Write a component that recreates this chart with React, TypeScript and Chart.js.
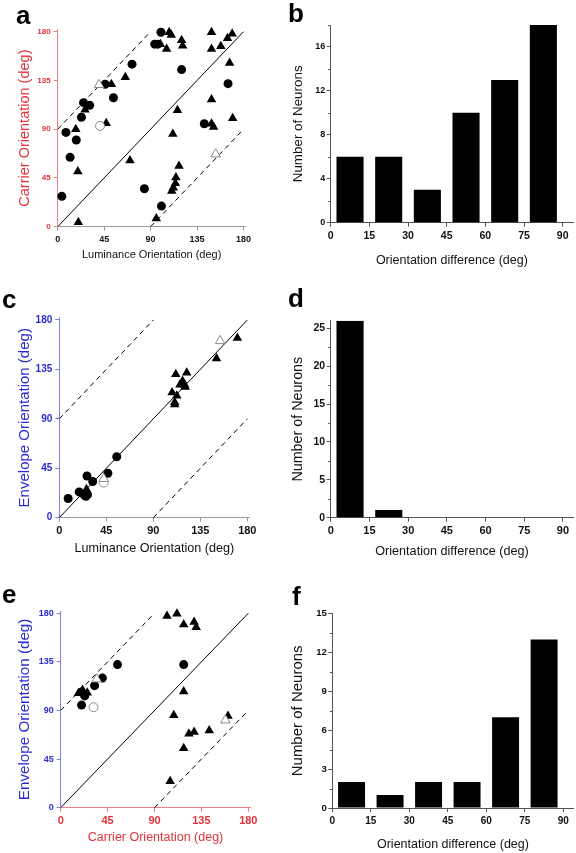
import React, { useEffect, useRef } from "react";
import { Chart, registerables } from "chart.js";

Chart.register(...registerables);

// ---------------- DATA ----------------
// Panel a: Luminance (x) vs Carrier (y) orientation
const aCircleX = [4, 8, 12, 18, 23, 25, 31, 46, 54, 72, 84, 94, 97, 100, 100.5, 120, 142, 165];
const aCircleY = [28, 87, 64, 80, 101, 114.5, 112, 131.5, 119, 150, 35, 168.5, 168.5, 179.5, 19, 145, 95, 132];
const aOpenCircleX = [41];
const aOpenCircleY = [93];
const aTriX = [20, 19.5, 17.5, 26.5, 47, 52, 65.5, 70, 95.5, 99.5, 105.5, 108, 110, 120, 121, 116, 111.5, 117.5, 114.5, 114, 112, 110.5, 149, 149, 158, 164.5, 169, 166.5, 149, 149, 151, 169.5];
const aTriY = [4, 51, 90, 108, 95.5, 131.5, 138, 61, 7.5, 168.5, 164, 179.5, 177, 172, 167, 107.5, 85.5, 56, 45.5, 40, 36, 33, 179.5, 164, 166.5, 174, 178, 151, 117.5, 95, 92, 100];
const aOpenTriX = [40, 153];
const aOpenTriY = [131, 67];

// Panel c: Luminance (x) vs Envelope (y) orientation
const cCircleX = [8.5, 19, 24, 25.5, 27, 26.5, 32, 46.5, 55];
const cCircleY = [17.5, 23.5, 20.5, 19.5, 21, 38, 33, 40.5, 55.5];
const cOpenCircleX = [42.5];
const cOpenCircleY = [32];
const cTriX = [26, 111.5, 122, 108, 112.5, 110.5, 110.5, 115.5, 118, 120, 120.5, 150.5, 170.5];
const cTriY = [26, 130.5, 132, 114, 111, 105, 103, 121, 124.5, 121, 119, 145, 163.5];
const cOpenTriX = [42.5, 154];
const cOpenTriY = [35.5, 161];

// Panel e: Carrier (x) vs Envelope (y) orientation
const eCircleX = [118, 54.5, 40, 32.5, 20, 23, 20];
const eCircleY = [132.5, 132.5, 120, 113, 95, 103.5, 107];
const eOpenCircleX = [31.5];
const eOpenCircleY = [93];
const eTriX = [102, 111.5, 118, 128, 130, 118, 108.5, 123, 128, 142.5, 118, 105, 160.5, 17, 21, 25.5];
const eTriY = [177.5, 179.5, 169.5, 172, 167, 107.5, 85.5, 68.5, 70, 71.5, 55, 24.5, 85, 106, 109, 106.5];
const eOpenTriX = [34.5, 158];
const eOpenTriY = [119, 81];

// Reference lines (y = x, y = x + 90, y = x - 90)
const identityX = [0, 180];
const identityY = [0, 180];
const upperX = [0, 90];
const upperY = [90, 180];
const lowerX = [90, 180];
const lowerY = [0, 90];

const scatterTicks = [0, 45, 90, 135, 180];

// Histograms: orientation difference bins
const binCenters = [7.5, 22.5, 37.5, 52.5, 67.5, 82.5];
const histTicks = [0, 15, 30, 45, 60, 75, 90];
const bCounts = [6, 6, 3, 10, 13, 18];
const dCounts = [26, 1, 0, 0, 0, 0];
const fCounts = [2, 1, 2, 2, 7, 13];
const bYTicks = [0, 4, 8, 12, 16];
const dYTicks = [0, 5, 10, 15, 20, 25];
const fYTicks = [0, 3, 6, 9, 12, 15];

// ---------------- STYLE ----------------
const FONT = "'Liberation Sans', Arial, Helvetica, sans-serif";
const RED = "#e2333c";
const RED_LINE = "#ec7f85";
const BLUE = "#2b2bd4";
const BLUE_LINE = "#8080e2";
const GRAY_LINE = "#9a9a9a";
const DARK_LINE = "#555555";
const TEXT = "#111111";

Chart.defaults.font.family = FONT;

const pts = (xs: number[], ys: number[]) => xs.map((x, i) => ({ x, y: ys[i] }));

const minorTicks = {
  id: "minorTicks",
  afterDraw(chart: any, _args: any, opts: any) {
    if (!opts || !opts.step) return;
    const s = chart.scales.y;
    const ctx = chart.ctx;
    ctx.save();
    ctx.strokeStyle = opts.color || DARK_LINE;
    ctx.lineWidth = 1;
    for (let v = opts.step; v <= s.max; v += 2 * opts.step) {
      const py = Math.round(s.getPixelForValue(v)) + 0.5;
      ctx.beginPath();
      ctx.moveTo(s.right, py);
      ctx.lineTo(s.right - 2.5, py);
      ctx.stroke();
    }
    ctx.restore();
  },
};

type Geo = {
  w: number; h: number;
  axisLeft: number; axisRight: number; axisTop: number; axisBottom: number;
  yTitleX: number; xTitleY: number; yTitleSize: number; xTitleSize: number;
};

function layoutFor(g: Geo) {
  const padLeft = g.yTitleX - 0.6 * g.yTitleSize;
  const xBottom = g.xTitleY + 0.6 * g.xTitleSize;
  return {
    padding: { left: padLeft, top: g.axisTop, right: g.w - g.axisRight, bottom: g.h - xBottom },
    yWidth: g.axisLeft - padLeft,
    xHeight: xBottom - g.axisBottom,
  };
}

type AxisStyle = { line: string; text: string; tickSize: number; title: string; titleSize: number };

function axis(opts: {
  s: AxisStyle; min: number; max: number; ticks: number[]; vertical: boolean; size: number; tickLen: number; pad: number;
}) {
  const { s } = opts;
  return {
    type: "linear",
    min: opts.min,
    max: opts.max,
    offset: false,
    afterBuildTicks: (scale: any) => {
      scale.ticks = opts.ticks.map((v) => ({ value: v }));
    },
    afterFit: (scale: any) => {
      if (opts.vertical) scale.width = opts.size;
      else scale.height = opts.size;
    },
    border: { display: true, color: s.line, width: 1 },
    grid: { display: true, drawOnChartArea: false, drawTicks: true, tickLength: opts.tickLen, color: s.line, offset: false },
    ticks: {
      color: s.text,
      padding: opts.pad,
      maxRotation: 0,
      autoSkip: false,
      font: { size: s.tickSize, weight: "bold", family: FONT },
    },
    title: {
      display: true,
      text: s.title,
      color: s.text,
      padding: 0,
      font: { size: s.titleSize, family: FONT },
    },
  };
}

type ScatterSpec = {
  geo: Geo;
  xs: AxisStyle; ys: AxisStyle;
  circle: [number[], number[]]; openCircle: [number[], number[]];
  tri: [number[], number[]]; openTri: [number[], number[]];
};

function scatterConfig(sp: ScatterSpec): any {
  const L = layoutFor(sp.geo);
  const mk = (d: any, style: string, r: number, open: boolean) => ({
    data: d,
    pointStyle: style,
    pointRadius: r,
    pointBackgroundColor: open ? "#ffffff" : "#000000",
    pointBorderColor: open ? "#8a8a8a" : "#000000",
    pointBorderWidth: open ? 1 : 0,
    showLine: false,
    clip: false,
  });
  const line = (d: any, dash: number[]) => ({
    data: d,
    showLine: true,
    borderColor: "#000000",
    borderWidth: 1,
    borderDash: dash,
    pointRadius: 0,
    fill: false,
  });
  return {
    type: "scatter",
    data: {
      datasets: [
        mk(pts(sp.openTri[0], sp.openTri[1]), "triangle", 5.5, true),
        mk(pts(sp.openCircle[0], sp.openCircle[1]), "circle", 4.5, true),
        mk(pts(sp.tri[0], sp.tri[1]), "triangle", 5.5, false),
        mk(pts(sp.circle[0], sp.circle[1]), "circle", 4.5, false),
        line(pts(identityX, identityY), []),
        line(pts(upperX, upperY), [5, 4]),
        line(pts(lowerX, lowerY), [5, 4]),
      ],
    },
    options: {
      responsive: false,
      animation: false,
      events: [],
      layout: { padding: L.padding },
      plugins: { legend: { display: false }, tooltip: { enabled: false } },
      scales: {
        x: axis({ s: sp.xs, min: 0, max: 182, ticks: scatterTicks, vertical: false, size: L.xHeight, tickLen: 4, pad: 3 }),
        y: axis({ s: sp.ys, min: 0, max: 182, ticks: scatterTicks, vertical: true, size: L.yWidth, tickLen: 4, pad: 3 }),
      },
    },
  };
}

type HistSpec = {
  geo: Geo; counts: number[]; yMax: number; yTicks: number[]; minorStep: number;
  xTickSize: number; yTickSize: number; xTitleSize: number; yTitleSize: number;
};

function histConfig(sp: HistSpec): any {
  const L = layoutFor(sp.geo);
  const xs: AxisStyle = { line: DARK_LINE, text: TEXT, tickSize: sp.xTickSize, title: "Orientation difference (deg)", titleSize: sp.xTitleSize };
  const ys: AxisStyle = { line: DARK_LINE, text: TEXT, tickSize: sp.yTickSize, title: "Number of Neurons", titleSize: sp.yTitleSize };
  return {
    type: "bar",
    data: {
      datasets: [
        {
          data: pts(binCenters, sp.counts),
          backgroundColor: "#000000",
          borderWidth: 0,
          barPercentage: 0.7,
          categoryPercentage: 1,
        },
      ],
    },
    options: {
      responsive: false,
      animation: false,
      events: [],
      layout: { padding: L.padding },
      plugins: { legend: { display: false }, tooltip: { enabled: false }, minorTicks: { step: sp.minorStep, color: DARK_LINE } },
      scales: {
        x: axis({ s: xs, min: 0, max: 94, ticks: histTicks, vertical: false, size: L.xHeight, tickLen: 4, pad: 3 }),
        y: axis({ s: ys, min: 0, max: sp.yMax, ticks: sp.yTicks, vertical: true, size: L.yWidth, tickLen: 4, pad: 1.5 }),
      },
    },
  };
}

function ChartBox({ left, top, w, h, config }: { left: number; top: number; w: number; h: number; config: any }) {
  const ref = useRef<HTMLCanvasElement | null>(null);
  useEffect(() => {
    if (!ref.current) return;
    const chart = new Chart(ref.current, { ...config, plugins: [minorTicks] });
    return () => chart.destroy();
  }, []);
  return (
    <canvas
      ref={ref}
      width={w}
      height={h}
      style={{ position: "absolute", left, top, width: w, height: h, display: "block" }}
    />
  );
}

function Letter({ ch, left, baseline }: { ch: string; left: number; baseline: number }) {
  return (
    <div
      style={{
        position: "absolute",
        left,
        top: baseline - 22,
        fontFamily: FONT,
        fontWeight: "bold",
        fontSize: 26,
        lineHeight: "26px",
        color: "#000",
      }}
    >
      {ch}
    </div>
  );
}

const W = 288;

const panelA = scatterConfig({
  geo: { w: W, h: 285, axisLeft: 57.7, axisRight: 245.6, axisTop: 29.5, axisBottom: 226.7, yTitleX: 25, xTitleY: 255, yTitleSize: 14.5, xTitleSize: 11 },
  xs: { line: GRAY_LINE, text: TEXT, tickSize: 9, title: "Luminance Orientation (deg)", titleSize: 11 },
  ys: { line: RED_LINE, text: RED, tickSize: 8, title: "Carrier Orientation (deg)", titleSize: 14.5 },
  circle: [aCircleX, aCircleY], openCircle: [aOpenCircleX, aOpenCircleY],
  tri: [aTriX, aTriY], openTri: [aOpenTriX, aOpenTriY],
});

const panelC = scatterConfig({
  geo: { w: W, h: 285, axisLeft: 59.3, axisRight: 249.4, axisTop: 32.8, axisBottom: 232.7, yTitleX: 25, xTitleY: 263.3, yTitleSize: 15, xTitleSize: 12.6 },
  xs: { line: GRAY_LINE, text: TEXT, tickSize: 11, title: "Luminance Orientation (deg)", titleSize: 12.6 },
  ys: { line: BLUE_LINE, text: BLUE, tickSize: 10, title: "Envelope Orientation (deg)", titleSize: 15 },
  circle: [cCircleX, cCircleY], openCircle: [cOpenCircleX, cOpenCircleY],
  tri: [cTriX, cTriY], openTri: [cOpenTriX, cOpenTriY],
});

const panelE = scatterConfig({
  geo: { w: W, h: 283, axisLeft: 60.7, axisRight: 250.4, axisTop: 41.1, axisBottom: 237.7, yTitleX: 25, xTitleY: 267.7, yTitleSize: 15.2, xTitleSize: 12.5 },
  xs: { line: RED_LINE, text: RED, tickSize: 11, title: "Carrier Orientation (deg)", titleSize: 12.5 },
  ys: { line: BLUE_LINE, text: BLUE, tickSize: 9, title: "Envelope Orientation (deg)", titleSize: 15.2 },
  circle: [eCircleX, eCircleY], openCircle: [eOpenCircleX, eOpenCircleY],
  tri: [eTriX, eTriY], openTri: [eOpenTriX, eOpenTriY],
});

const panelB = histConfig({
  geo: { w: W, h: 285, axisLeft: 42.7, axisRight: 285.0, axisTop: 25, axisBottom: 222.7, yTitleX: 10.3, xTitleY: 260.7, yTitleSize: 13.4, xTitleSize: 12.5 },
  counts: bCounts, yMax: 18, yTicks: bYTicks, minorStep: 2,
  xTickSize: 10.5, yTickSize: 9, xTitleSize: 12.5, yTitleSize: 13.4,
});

const panelD = histConfig({
  geo: { w: W, h: 285, axisLeft: 42.7, axisRight: 285.3, axisTop: 35.7, axisBottom: 232.7, yTitleX: 10.3, xTitleY: 266.7, yTitleSize: 14.3, xTitleSize: 12.65 },
  counts: dCounts, yMax: 26, yTicks: dYTicks, minorStep: 2.5,
  xTickSize: 11, yTickSize: 10.5, xTitleSize: 12.65, yTitleSize: 14.3,
});

const panelF = histConfig({
  geo: { w: W, h: 283, axisLeft: 44.3, axisRight: 285.6, axisTop: 43.7, axisBottom: 238, yTitleX: 10.3, xTitleY: 275, yTitleSize: 15, xTitleSize: 12.5 },
  counts: fCounts, yMax: 15, yTicks: fYTicks, minorStep: 1.5,
  xTickSize: 10, yTickSize: 9.6, xTitleSize: 12.5, yTitleSize: 15,
});

export default function App() {
  return (
    <div style={{ position: "absolute", left: 0, top: 0, width: 576, height: 853, background: "#ffffff", overflow: "hidden" }}>
      <ChartBox left={0} top={0} w={W} h={285} config={panelA} />
      <ChartBox left={288} top={0} w={W} h={285} config={panelB} />
      <ChartBox left={0} top={285} w={W} h={285} config={panelC} />
      <ChartBox left={288} top={285} w={W} h={285} config={panelD} />
      <ChartBox left={0} top={570} w={W} h={283} config={panelE} />
      <ChartBox left={288} top={570} w={W} h={283} config={panelF} />
      <Letter ch="a" left={16} baseline={23.5} />
      <Letter ch="b" left={288} baseline={22} />
      <Letter ch="c" left={2} baseline={308} />
      <Letter ch="d" left={288} baseline={306.5} />
      <Letter ch="e" left={2} baseline={603} />
      <Letter ch="f" left={292} baseline={605} />
    </div>
  );
}
